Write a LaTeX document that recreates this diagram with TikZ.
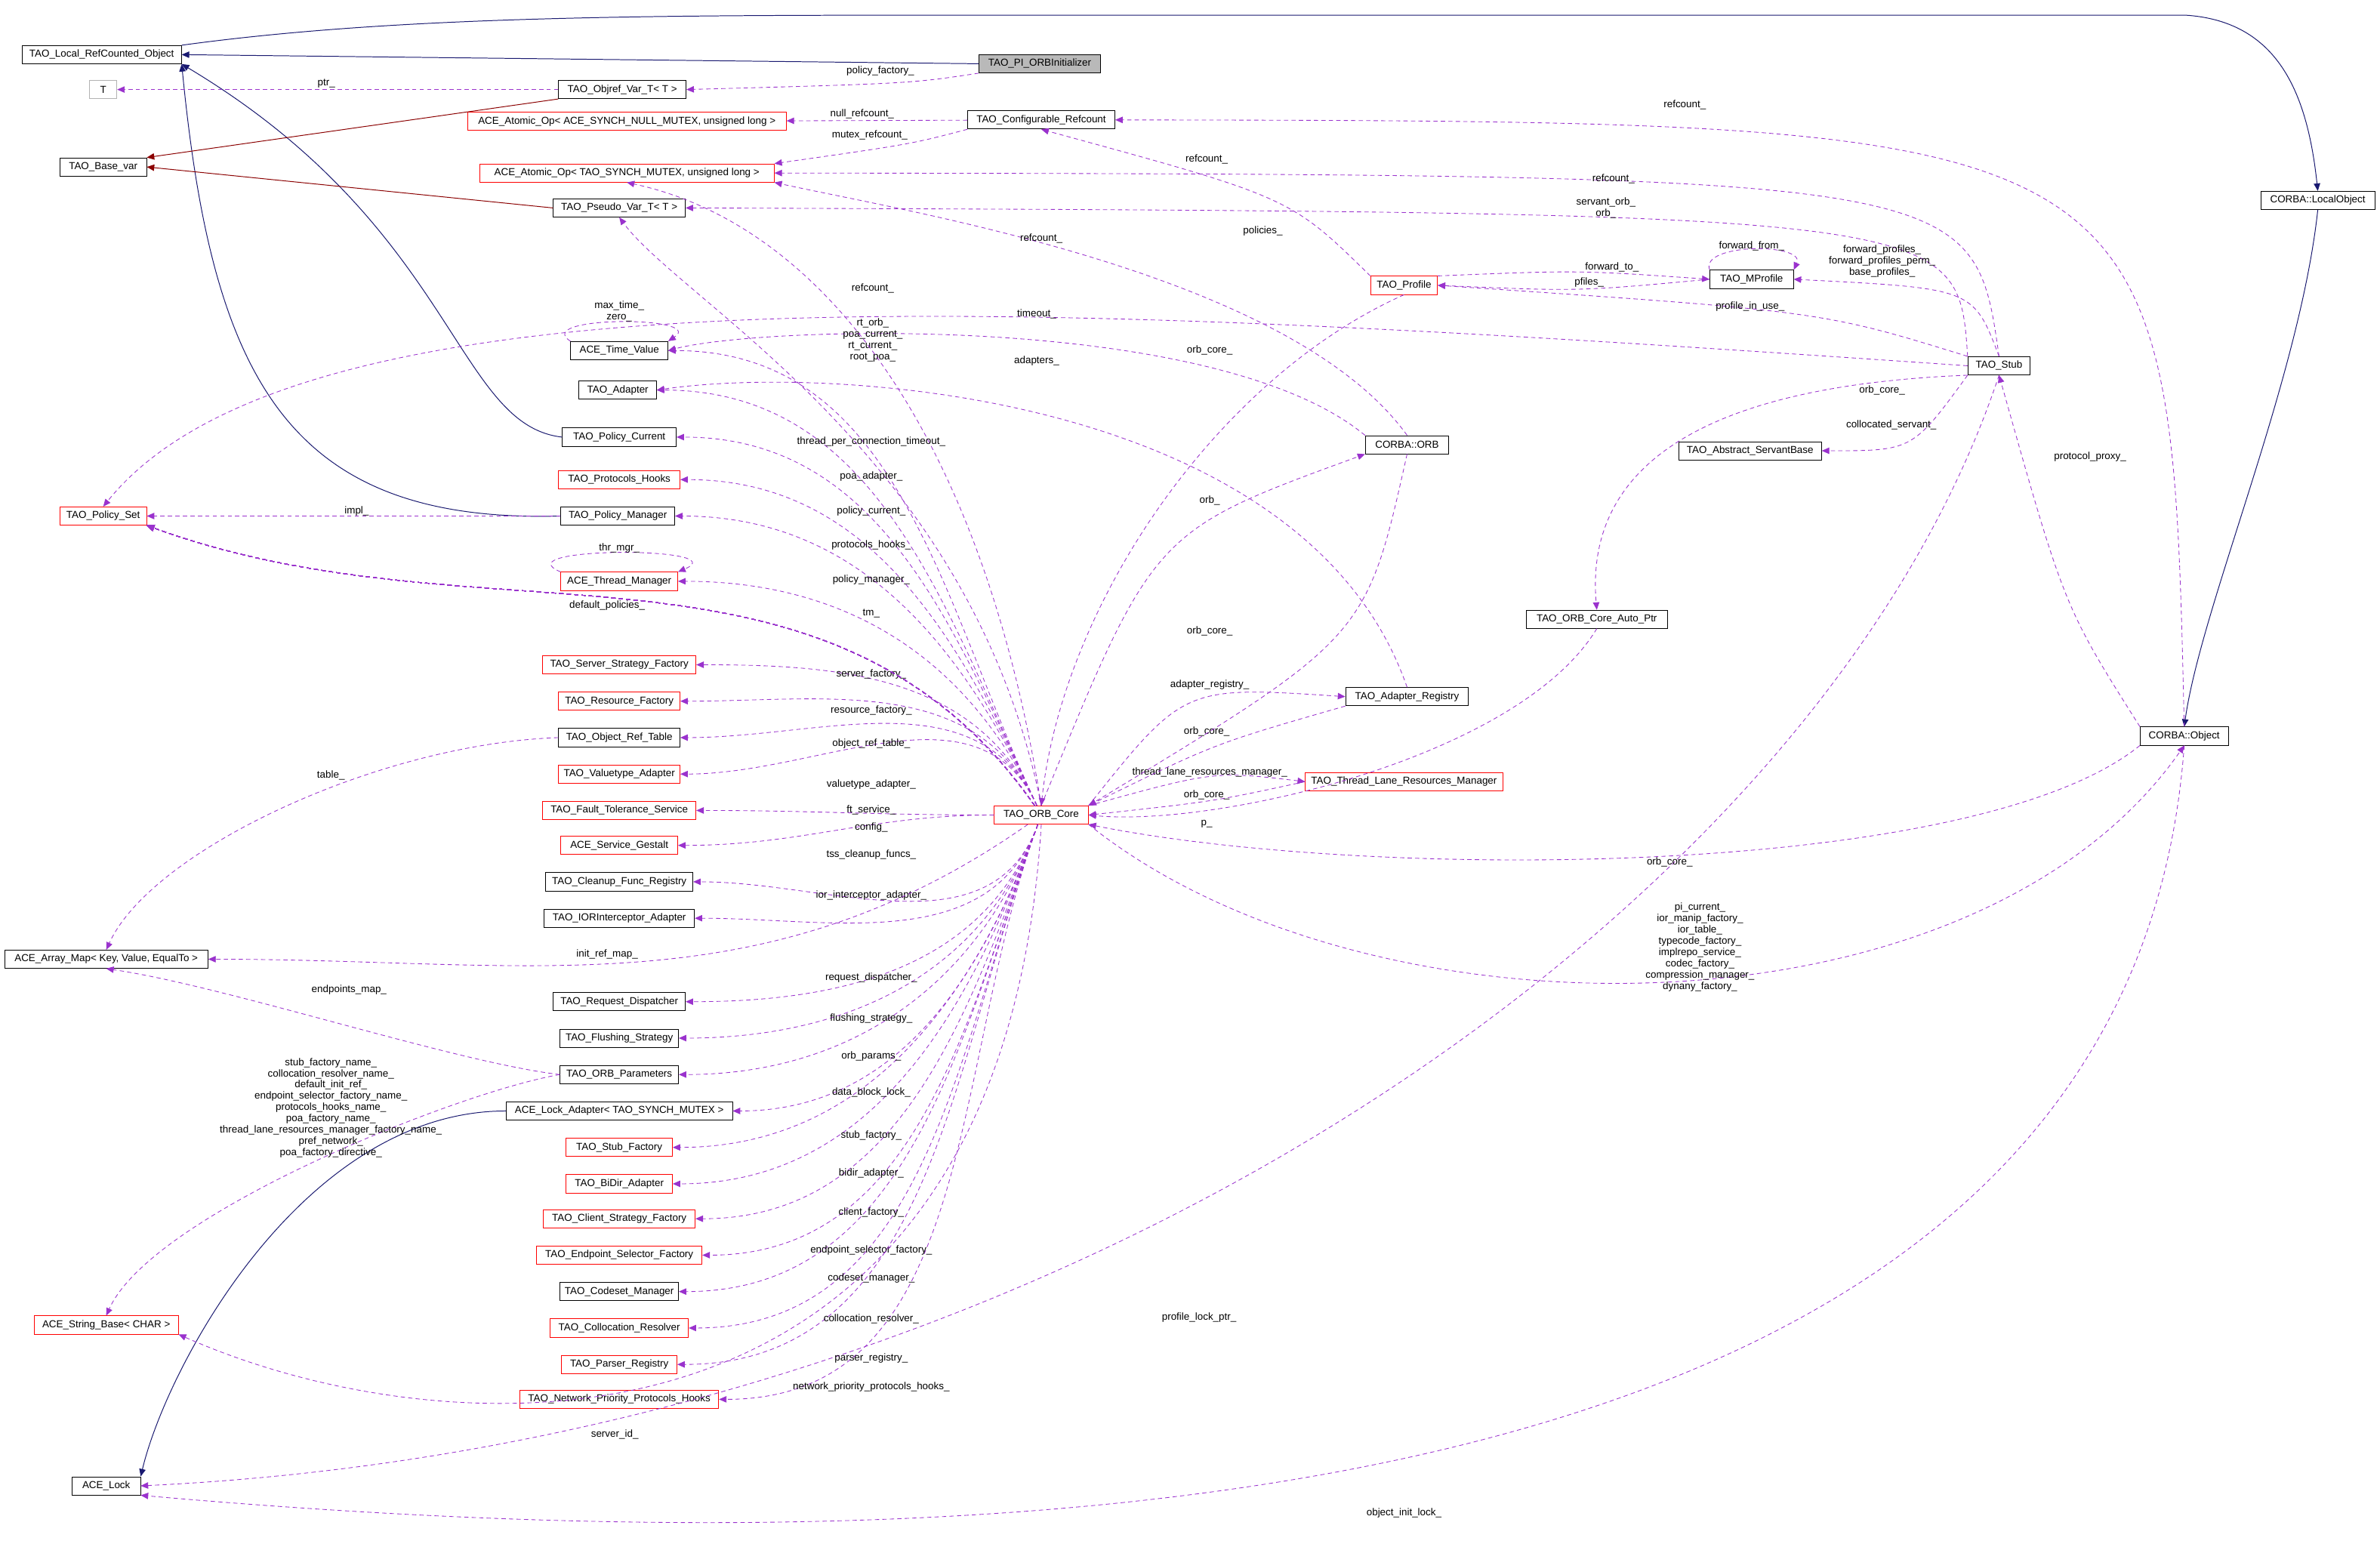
\documentclass[tikz,border=0pt]{standalone}
\usepackage{fontspec}
\setmainfont{Liberation Sans}
\usetikzlibrary{arrows.meta}
\definecolor{inhcol}{HTML}{191970}
\definecolor{tplcol}{HTML}{8B0000}
\definecolor{usecol}{HTML}{9A32CD}
\tikzset{
  box/.style={draw=black,fill=white,inner sep=1pt,minimum height=0.6cm,line width=0.6pt,font=\fontsize{9.5}{10.6}\selectfont},
  redbox/.style={box,draw=red},
  graybox/.style={box,draw=gray!60},
  mainbox/.style={box,fill=gray!55},
  lbl/.style={inner sep=0pt,align=center,font=\fontsize{9.5}{10.6}\selectfont},
  inh/.style={draw=inhcol,line width=0.7pt,->,>={Triangle[length=7pt,width=6pt]}},
  tpl/.style={draw=tplcol,line width=0.7pt,->,>={Triangle[length=7pt,width=6pt]}},
  dep/.style={draw=usecol,line width=0.6pt,dash pattern=on 4pt off 3pt,->,>={Triangle[length=7pt,width=6pt]}}
}
\newcommand\cls[6]{\node[#1,minimum width=#5*0.05cm] (#2) at (#3,#4) {#6};}
\newcounter{lb}
\newcommand\lbl[3]{\stepcounter{lb}\node[lbl] (lb\arabic{lb}) at (#1,#2) {#3};}
\begin{document}
\catcode`\_=12
\begin{tikzpicture}[x=0.05cm,y=-0.05cm]
  \useasboundingbox[fill=white] (0,0) rectangle (1568,1019);

  % classes
  \cls{box}{lrc}{67}{36}{105}{TAO_Local_RefCounted_Object}
  \cls{mainbox}{pio}{685}{42}{80}{TAO_PI_ORBInitializer}
  \cls{graybox}{T}{68}{59}{18}{T}
  \cls{box}{objref}{410}{59}{84}{TAO_Objref_Var_T< T >}
  \cls{redbox}{aonull}{413}{80}{210}{ACE_Atomic_Op< ACE_SYNCH_NULL_MUTEX, unsigned long >}
  \cls{box}{cfgref}{686}{79}{97}{TAO_Configurable_Refcount}
  \cls{box}{basevar}{68}{110}{57}{TAO_Base_var}
  \cls{redbox}{aomtx}{413}{114}{194}{ACE_Atomic_Op< TAO_SYNCH_MUTEX, unsigned long >}
  \cls{box}{pseudo}{408}{137}{87}{TAO_Pseudo_Var_T< T >}
  \cls{box}{locobj}{1527}{132}{75}{CORBA::LocalObject}
  \cls{redbox}{profile}{925}{188}{44}{TAO_Profile}
  \cls{box}{mprof}{1154}{184}{55}{TAO_MProfile}
  \cls{box}{timev}{408}{231}{64}{ACE_Time_Value}
  \cls{box}{stub}{1317}{241}{41}{TAO_Stub}
  \cls{box}{adapter}{407}{257}{51}{TAO_Adapter}
  \cls{box}{polcur}{408}{288}{75}{TAO_Policy_Current}
  \cls{box}{orb}{927}{293}{55}{CORBA::ORB}
  \cls{box}{servb}{1153}{297}{94}{TAO_Abstract_ServantBase}
  \cls{redbox}{prothooks}{408}{316}{80}{TAO_Protocols_Hooks}
  \cls{redbox}{polset}{68}{340}{57}{TAO_Policy_Set}
  \cls{box}{polmgr}{407}{340}{75}{TAO_Policy_Manager}
  \cls{redbox}{thrmgr}{408}{383}{77}{ACE_Thread_Manager}
  \cls{box}{autoptr}{1052}{408}{93}{TAO_ORB_Core_Auto_Ptr}
  \cls{redbox}{ssf}{408}{438}{101}{TAO_Server_Strategy_Factory}
  \cls{box}{adreg}{927}{459}{81}{TAO_Adapter_Registry}
  \cls{redbox}{resf}{408}{462}{80}{TAO_Resource_Factory}
  \cls{box}{obj}{1439}{485}{58}{CORBA::Object}
  \cls{box}{ort}{408}{486}{80}{TAO_Object_Ref_Table}
  \cls{redbox}{vta}{408}{510}{80}{TAO_Valuetype_Adapter}
  \cls{redbox}{tlrm}{925}{515}{130}{TAO_Thread_Lane_Resources_Manager}
  \cls{redbox}{fts}{408}{534}{101}{TAO_Fault_Tolerance_Service}
  \cls{redbox}{core}{686}{537}{62}{TAO_ORB_Core}
  \cls{redbox}{sg}{408}{557}{77}{ACE_Service_Gestalt}
  \cls{box}{cfr}{408}{581}{97}{TAO_Cleanup_Func_Registry}
  \cls{box}{iora}{408}{605}{99}{TAO_IORInterceptor_Adapter}
  \cls{box}{amap}{70}{632}{134}{ACE_Array_Map< Key, Value, EqualTo >}
  \cls{box}{rd}{408}{660}{87}{TAO_Request_Dispatcher}
  \cls{box}{fs}{408}{684}{78}{TAO_Flushing_Strategy}
  \cls{box}{op}{408}{708}{78}{TAO_ORB_Parameters}
  \cls{box}{la}{408}{732}{149}{ACE_Lock_Adapter< TAO_SYNCH_MUTEX >}
  \cls{redbox}{sf}{408}{756}{70}{TAO_Stub_Factory}
  \cls{redbox}{bidir}{408}{780}{70}{TAO_BiDir_Adapter}
  \cls{redbox}{csf}{408}{803}{100}{TAO_Client_Strategy_Factory}
  \cls{redbox}{esf}{408}{827}{109}{TAO_Endpoint_Selector_Factory}
  \cls{box}{csm}{408}{851}{78}{TAO_Codeset_Manager}
  \cls{redbox}{strb}{70}{873}{95}{ACE_String_Base< CHAR >}
  \cls{redbox}{colr}{408}{875}{91}{TAO_Collocation_Resolver}
  \cls{redbox}{pr}{408}{899}{76}{TAO_Parser_Registry}
  \cls{redbox}{nph}{408}{922}{131}{TAO_Network_Priority_Protocols_Hooks}
  \cls{box}{lock}{70}{979}{45}{ACE_Lock}

  % inheritance
  \draw[inh] (pio.west) -- (lrc.east);
  \draw[inh] (lrc.north east) .. controls (250,12) and (400,10) .. (600,10) -- (1440,10)
        .. controls (1500,14) and (1520,60) .. (locobj.north);
  \draw[inh] (locobj.south) .. controls (1515,250) and (1450,400) .. (obj.north);
  \draw[inh] (polcur.west) .. controls (300,280) and (300,150) .. (lrc.south east);
  \draw[inh] (polmgr.west) .. controls (190,345) and (140,250) .. (lrc.south east);
  \draw[inh] (la.west) .. controls (200,732) and (110,900) .. (lock.north east);
  \draw[tpl] (objref.south west) -- (basevar.north east);
  \draw[tpl] (pseudo.west) -- (basevar.east);

  % members, top part
  \draw[dep] (pio.south west) .. controls (600,55) .. (objref.east);
  \lbl{580}{47}{policy_factory_}
  \draw[dep] (objref) -- (T);
  \lbl{215}{55}{ptr_}
  \draw[dep] (cfgref) -- (aonull);
  \lbl{568}{75}{null_refcount_}
  \draw[dep] (cfgref.south west) .. controls (600,95) .. (aomtx.north east);
  \lbl{573}{89}{mutex_refcount_}
  \draw[dep] (obj.north) .. controls (1430,80) .. (cfgref.east);
  \lbl{1110}{69}{refcount_}
  \draw[dep] (profile.north west) .. controls (850,130) .. (cfgref.south);
  \lbl{795}{105}{refcount_}
  \draw[dep] (stub.north) .. controls (1300,115) .. (aomtx.east);
  \lbl{1063}{118}{refcount_}
  \draw[dep] (stub.north west) .. controls (1290,140) .. (pseudo.east);
  \lbl{1058}{137}{servant_orb_\\orb_}
  \draw[dep] (stub.west) .. controls (700,200) and (200,170) .. (polset.north);
  \lbl{832}{152}{policies_}
  \draw[dep] (stub.north west) .. controls (1200,205) .. (profile.east);
  \lbl{1153}{202}{profile_in_use_}
  \draw[dep] (stub.north) .. controls (1300,190) .. (mprof.east);
  \lbl{1240}{172}{forward_profiles_\\forward_profiles_perm_\\base_profiles_}
  \draw[dep] (mprof.north west) .. controls (1120,160) and (1190,160) .. (mprof.north east);
  \lbl{1154}{162}{forward_from_}
  \draw[dep] (profile.north east) .. controls (1040,178) .. (mprof.west);
  \lbl{1062}{176}{forward_to_}
  \draw[dep] (mprof.west) .. controls (1040,192) .. (profile.east);
  \lbl{1047}{186}{pfiles_}
  \draw[dep] (stub.south west) .. controls (1100,255) and (1045,320) .. (autoptr.north);
  \lbl{1240}{257}{orb_core_}
  \draw[dep] (stub.south west) .. controls (1260,297) .. (servb.east);
  \lbl{1246}{280}{collocated_servant_}
  \draw[dep] (obj.north west) .. controls (1360,400) .. (stub.south);
  \lbl{1377}{301}{protocol_proxy_}
  \draw[dep] (stub.south) .. controls (1200,600) and (700,950) .. (lock.east);
  \lbl{790}{868}{profile_lock_ptr_}
  \draw[dep] (obj.south) .. controls (1400,1030) and (600,1030) .. (lock.south east);
  \lbl{925}{997}{object_init_lock_}
  \draw[dep] (obj.south west) .. controls (1300,580) and (900,580) .. (core.south east);
  \lbl{1100}{568}{orb_core_}
  \draw[dep] (core.south east) .. controls (900,690) and (1300,690) .. (obj.south);
  \lbl{1120}{624}{pi_current_\\ior_manip_factory_\\ior_table_\\typecode_factory_\\implrepo_service_\\codec_factory_\\compression_manager_\\dynany_factory_}

  % around the ORB core
  \draw[dep] (autoptr.south) .. controls (1000,500) and (800,545) .. (core.east);
  \lbl{795}{543}{p_}
  \draw[dep] (tlrm.west) .. controls (800,528) .. (core.east);
  \lbl{795}{524}{orb_core_}
  \draw[dep] (core.north east) .. controls (800,508) .. (tlrm.west);
  \lbl{797}{509}{thread_lane_resources_manager_}
  \draw[dep] (adreg.south west) .. controls (800,490) .. (core.north east);
  \lbl{795}{482}{orb_core_}
  \draw[dep] (core.north east) .. controls (780,452) .. (adreg.west);
  \lbl{797}{451}{adapter_registry_}
  \draw[dep] (core.north) .. controls (760,350) .. (orb.south west);
  \lbl{797}{330}{orb_}
  \draw[dep] (orb.south) .. controls (900,420) .. (core.north east);
  \lbl{797}{416}{orb_core_}
  \draw[dep] (profile.south) .. controls (800,250) and (700,400) .. (core.north);
  \lbl{797}{231}{orb_core_}
  \draw[dep] (orb.north) .. controls (850,180) and (600,140) .. (aomtx.south east);
  \lbl{686}{157}{refcount_}
  \draw[dep] (orb.north west) .. controls (800,205) and (500,215) .. (timev.east);
  \lbl{683}{207}{timeout_}
  \draw[dep] (adreg.north) .. controls (860,260) and (550,240) .. (adapter.east);
  \lbl{683}{238}{adapters_}
  \draw[dep] (core.north) .. controls (640,300) and (450,200) .. (pseudo.south);
  \lbl{575}{224}{rt_orb_\\poa_current_\\rt_current_\\root_poa_}
  \draw[dep] (core.north) .. controls (650,300) and (550,150) .. (aomtx.south);
  \lbl{575}{190}{refcount_}
  \draw[dep] (timev.north west) .. controls (350,208) and (466,208) .. (timev.north east);
  \lbl{408}{205}{max_time_\\zero_}
  \draw[dep] (thrmgr.north west) .. controls (330,360) and (486,360) .. (thrmgr.north east);
  \lbl{408}{361}{thr_mgr_}

  % ORB core members on the left
  \foreach \n in {timev,adapter,polcur,prothooks,polmgr,thrmgr,ssf,resf,ort,vta}
    \draw[dep] (core) to[out=115,in=0] (\n.east);
  \foreach \n in {fts,sg}
    \draw[dep] (core) to[out=180,in=0] (\n.east);
  \foreach \n in {cfr,iora,rd,fs,op,la,sf,bidir,csf,esf,csm,colr,pr,nph}
    \draw[dep] (core) to[out=250,in=0] (\n.east);
  \foreach \y/\t in {291/thread_per_connection_timeout_, 314/poa_adapter_,
      337/policy_current_, 359/protocols_hooks_, 382/policy_manager_, 404/tm_,
      444/server_factory_, 468/resource_factory_, 490/object_ref_table_,
      517/valuetype_adapter_, 534/ft_service_, 545/config_, 563/tss_cleanup_funcs_,
      590/ior_interceptor_adapter_, 644/request_dispatcher_, 671/flushing_strategy_,
      696/orb_params_, 720/data_block_lock_, 748/stub_factory_, 773/bidir_adapter_,
      799/client_factory_, 824/endpoint_selector_factory_, 842/codeset_manager_,
      869/collocation_resolver_, 895/parser_registry_, 914/network_priority_protocols_hooks_}
    \lbl{574}{\y}{\t}
  \draw[dep] (core) to[out=125,in=-20] (polset.south east);
  \lbl{400}{399}{default_policies_}
  \draw[dep] (core) to[out=215,in=0] (amap.east);
  \lbl{400}{629}{init_ref_map_}
  \draw[dep] (core.south) .. controls (660,975) and (300,960) .. (strb.south east);
  \lbl{405}{945}{server_id_}

  % left column
  \draw[dep] (polmgr) -- (polset);
  \lbl{235}{337}{impl_}
  \draw[dep] (ort.west) .. controls (250,490) and (100,560) .. (amap.north);
  \lbl{218}{511}{table_}
  \draw[dep] (op.west) .. controls (300,700) and (150,650) .. (amap.south);
  \lbl{230}{652}{endpoints_map_}
  \draw[dep] (op.west) .. controls (300,720) and (100,800) .. (strb.north);
  \lbl{218}{730}{stub_factory_name_\\collocation_resolver_name_\\default_init_ref_\\endpoint_selector_factory_name_\\protocols_hooks_name_\\poa_factory_name_\\thread_lane_resources_manager_factory_name_\\pref_network_\\poa_factory_directive_}
\end{tikzpicture}
\end{document}
